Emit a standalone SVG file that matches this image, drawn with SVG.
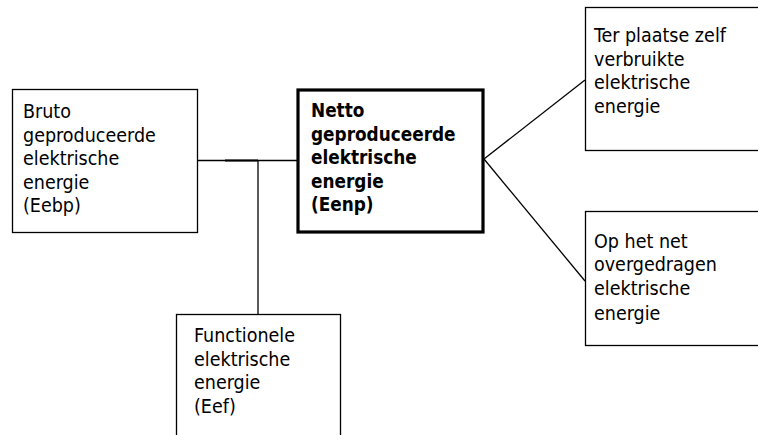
<svg xmlns="http://www.w3.org/2000/svg" width="758" height="435" viewBox="0 0 758 435">
  <style>
    .box { fill: #fff; stroke: #000; stroke-width: 1.3; }
    .main { fill: #fff; stroke: #000; stroke-width: 3.2; }
    .lbl { font-family: "DejaVu Sans Condensed", "DejaVu Sans", sans-serif; font-size: 19.5px; fill: #000; }
    .bold { font-weight: bold; font-size: 18.8px; }
    .wire { stroke: #000; stroke-width: 1.3; fill: none; }
  </style>
  <rect width="758" height="435" fill="#fff"/>

  <g id="connectors">
    <line class="wire" x1="197" y1="160.5" x2="298" y2="160.5"/>
    <line x1="225" y1="160.5" x2="258" y2="160.5" stroke="#000" stroke-width="2"/>
    <line class="wire" x1="258" y1="160.5" x2="258" y2="314"/>
    <line class="wire" x1="484" y1="159" x2="585" y2="80"/>
    <line class="wire" x1="484" y1="159" x2="585" y2="281"/>
  </g>

  <g id="bruto">
    <rect class="box" x="12.5" y="89.5" width="185" height="143"/>
    <text class="lbl" x="23" y="118">Bruto</text>
    <text class="lbl" x="23" y="141.5">geproduceerde</text>
    <text class="lbl" x="23" y="165">elektrische</text>
    <text class="lbl" x="23" y="188.5">energie</text>
    <text class="lbl" x="23" y="212">(Eebp)</text>
  </g>

  <g id="netto">
    <rect class="main" x="298" y="90" width="185" height="142"/>
    <text class="lbl bold" x="311" y="117">Netto</text>
    <text class="lbl bold" x="311" y="140.5">geproduceerde</text>
    <text class="lbl bold" x="311" y="164">elektrische</text>
    <text class="lbl bold" x="311" y="187.5">energie</text>
    <text class="lbl bold" x="311" y="211">(Eenp)</text>
  </g>

  <g id="functioneel">
    <rect class="box" x="176.5" y="314.5" width="164" height="140"/>
    <text class="lbl" x="194" y="342">Functionele</text>
    <text class="lbl" x="194" y="365.5">elektrische</text>
    <text class="lbl" x="194" y="389">energie</text>
    <text class="lbl" x="194" y="412.5">(Eef)</text>
  </g>

  <g id="eigenverbruik">
    <rect class="box" x="585.5" y="7.5" width="200" height="143"/>
    <text class="lbl" x="594" y="42">Ter plaatse zelf</text>
    <text class="lbl" x="594" y="65.5">verbruikte</text>
    <text class="lbl" x="594" y="89">elektrische</text>
    <text class="lbl" x="594" y="113">energie</text>
  </g>

  <g id="net">
    <rect class="box" x="585.5" y="211.5" width="200" height="134"/>
    <text class="lbl" x="594" y="247.5">Op het net</text>
    <text class="lbl" x="594" y="271">overgedragen</text>
    <text class="lbl" x="594" y="295">elektrische</text>
    <text class="lbl" x="594" y="320">energie</text>
  </g>
</svg>
